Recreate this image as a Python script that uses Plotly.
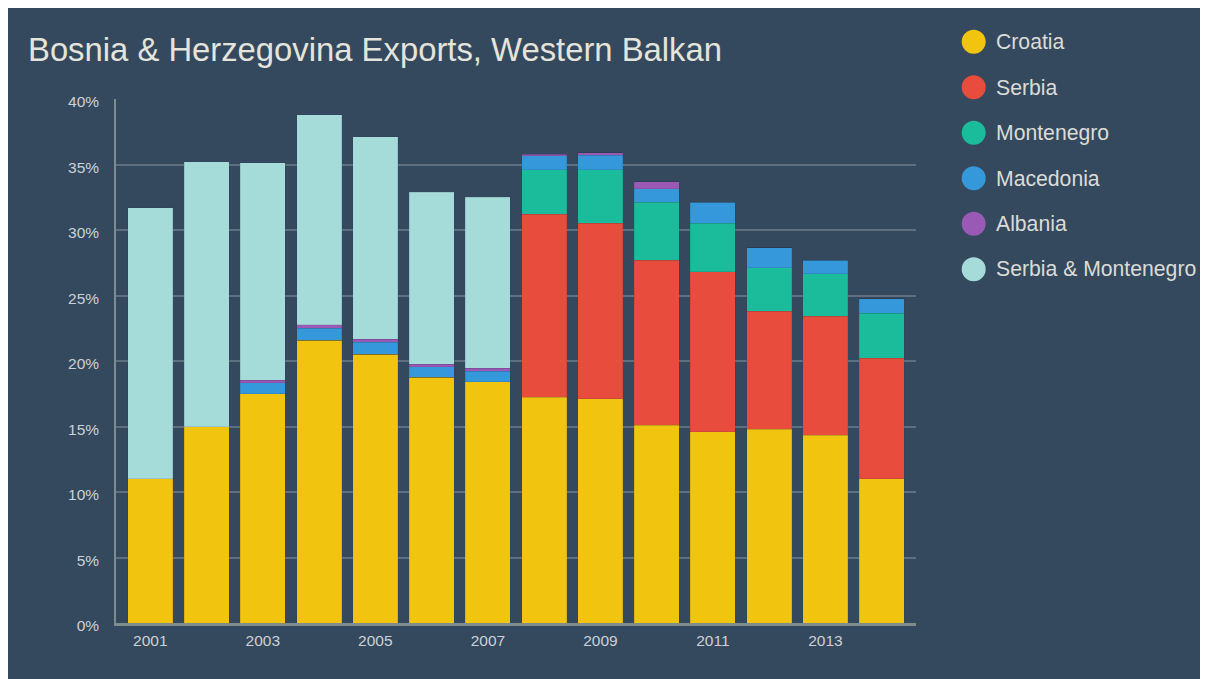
import plotly.graph_objects as go

years = list(range(2001, 2015))

# share of exports (%)
croatia = [11.0, 15.0, 17.5, 21.6, 20.5, 18.75, 18.4, 17.25, 17.1, 15.1, 14.6, 14.8, 14.35, 11.0]
serbia = [0, 0, 0, 0, 0, 0, 0, 13.95, 13.4, 12.6, 12.2, 9.0, 9.05, 9.2]
montenegro = [0, 0, 0, 0, 0, 0, 0, 3.4, 4.1, 4.4, 3.7, 3.3, 3.25, 3.45]
macedonia = [0, 0, 0.85, 0.9, 0.95, 0.8, 0.8, 1.05, 1.1, 1.05, 1.6, 1.55, 1.05, 1.1]
albania = [0, 0, 0.2, 0.25, 0.2, 0.2, 0.25, 0.15, 0.2, 0.55, 0, 0, 0, 0]
serbia_montenegro = [20.7, 20.2, 16.6, 16.05, 15.45, 13.15, 13.05, 0, 0, 0, 0, 0, 0, 0]

series = [
    ("Croatia", croatia, "#f1c40f"),
    ("Serbia", serbia, "#e74c3c"),
    ("Montenegro", montenegro, "#1abc9c"),
    ("Macedonia", macedonia, "#3498db"),
    ("Albania", albania, "#9b59b6"),
    ("Serbia & Montenegro", serbia_montenegro, "#a5dbd8"),
]

bg = "#34495e"
txt = "#dcdcd6"
fnt = "Liberation Sans, Arial, sans-serif"

fig = go.Figure()
for name, vals, col in series:
    fig.add_trace(go.Bar(x=years, y=vals, name=name, marker_color=col,
                         marker_line_width=0.5, marker_line_color="rgba(40,50,60,0.25)",
                         showlegend=False))

# figure size / plot area (figure px, div sits 8px in from page edge)
W, H = 1200, 671
L, R, T, B = 108, 292, 91, 56
pw, ph = W - L - R, H - T - B

def px(fx):
    return (fx - L) / pw

def py(fy):
    return (H - B - fy) / ph

# dark background card
fig.add_shape(type="rect", xref="paper", yref="paper", layer="below",
              x0=px(-2), x1=px(1205), y0=py(H + 10), y1=py(-1),
              fillcolor=bg, line_width=0)

# custom legend with round markers
for i, (name, vals, col) in enumerate(series):
    fy = 33.7 + i * 45.5
    fig.add_shape(type="circle", xref="paper", yref="paper",
                  xsizemode="pixel", ysizemode="pixel",
                  xanchor=px(965.7), yanchor=py(fy),
                  x0=-12, x1=12, y0=-12, y1=12,
                  fillcolor=col, line_width=0)
    fig.add_annotation(text=name, xref="paper", yref="paper",
                       x=px(985.5), y=py(fy), xanchor="left", yanchor="middle",
                       showarrow=False, font=dict(size=21.2, color=txt, family=fnt))

fig.update_layout(
    width=W, height=H,
    margin=dict(l=L, r=R, t=T, b=B),
    barmode="stack", bargap=0.2,
    paper_bgcolor="white", plot_bgcolor="rgba(0,0,0,0)",
    font=dict(family=fnt, color=txt, size=15),
    title=dict(text="Bosnia & Herzegovina Exports, Western Balkan",
               x=20 / W, xref="container", xanchor="left",
               y=1 - 41.5 / H, yref="container", yanchor="middle",
               font=dict(size=32.8, color="#e4e4dc", family=fnt)),
)
fig.update_xaxes(range=[2000.39, 2014.61], tickmode="linear", tick0=2001, dtick=2,
                 showgrid=False, showline=True, linecolor="#7f8c8d", linewidth=3,
                 ticks="", ticklabelstandoff=1, tickfont=dict(size=15.5, color="#cdd1d5", family=fnt))
fig.update_yaxes(range=[0, 40], dtick=5, ticksuffix="%", showgrid=True,
                 gridcolor="#5f6f80", gridwidth=1.5, zeroline=False,
                 showline=True, linecolor="#7f8c8d", linewidth=1.5,
                 ticks="", ticklabelstandoff=12, ticklabelshift=3,
                 tickfont=dict(size=15.5, color="#cdd1d5", family=fnt))

fig.write_html("out.html")
